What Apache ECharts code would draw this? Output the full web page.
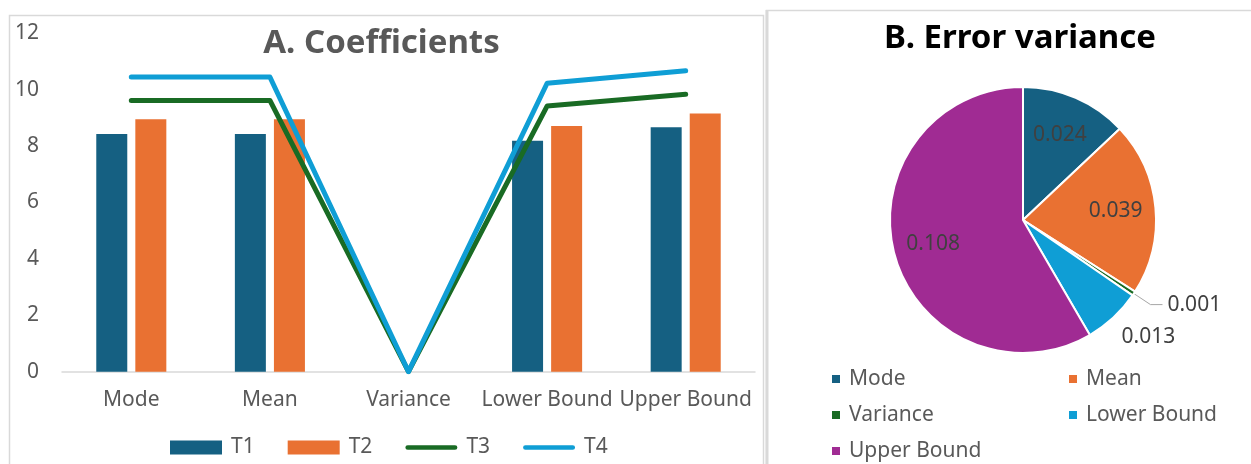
<!DOCTYPE html>
<html>
<head>
<meta charset="utf-8">
<script src="https://cdn.jsdelivr.net/npm/echarts@6/dist/echarts.min.js"></script>
<style>
  html, body { margin: 0; padding: 0; background: #fff; }
  #chart { width: 1251px; height: 464px; }
</style>
</head>
<body>
<div id="chart"></div>
<script>
// Coefficients per statistic for each test form
const categories = ['Mode', 'Mean', 'Variance', 'Lower Bound', 'Upper Bound'];
const seriesNames = ['T1', 'T2', 'T3', 'T4'];
const t1Values = [8.43, 8.43, 0, 8.19, 8.67];
const t2Values = [8.95, 8.95, 0, 8.71, 9.16];
const t3Values = [9.62, 9.62, 0, 9.42, 9.84];
const t4Values = [10.45, 10.45, 0, 10.23, 10.67];
const yAxisMin = 0;
const yAxisMax = 12;
const yAxisStep = 2;

// Error variance per statistic
const errorVariance = [0.024, 0.039, 0.001, 0.013, 0.108];
const errorLabels = ['0.024', '0.039', '0.001', '0.013', '0.108'];

const COLORS = ['#156082', '#E97132', '#196B24', '#0F9ED5', '#A02B93'];
const FONT = 'Noto Sans';
const TEXT = '#595959';

const PIE_CENTER = [1023, 220];
const PIE_R = 133;
// where each slice's label sits
const labelPlacement = ['inside', 'inside', 'leader', 'outside', 'inside'];

const pieTotal = errorVariance.reduce((a, b) => a + b, 0);
function midAngle(i) {
  let s = 0;
  for (let k = 0; k < i; k++) s += errorVariance[k];
  return (s + errorVariance[i] / 2) / pieTotal * Math.PI * 2;
}

// rounded stroke used as the legend key of the line series
const lineIcon = 'path://M2.5,0 L52.5,0 A2.5,2.5 0 0 1 52.5,5 L2.5,5 A2.5,2.5 0 0 1 2.5,0 Z';

const chart = echarts.init(document.getElementById('chart'), null, { renderer: 'canvas' });

const option = {
  backgroundColor: '#ffffff',
  animation: false,
  textStyle: { fontFamily: FONT },
  graphic: [
    { type: 'rect', shape: { x: 9.5, y: 15.5, width: 754, height: 470 },
      style: { fill: 'none', stroke: '#d9d9d9', lineWidth: 1.5 }, silent: true },
    { type: 'rect', shape: { x: 766.5, y: 10.5, width: 520, height: 470 },
      style: { fill: 'none', stroke: '#d9d9d9', lineWidth: 1.5 }, silent: true },
    { type: 'line', shape: { x1: 767, y1: 10, x2: 767, y2: 470 },
      style: { stroke: '#d9d9d9', lineWidth: 3 }, silent: true },
    { type: 'text', x: 381.5, y: 44, silent: true,
      style: { text: 'A. Coefficients', fontFamily: FONT, fontSize: 33, fontWeight: 'bold',
               fill: TEXT, align: 'center', verticalAlign: 'middle' } },
    { type: 'text', x: 1020, y: 39, silent: true,
      style: { text: 'B. Error variance', fontFamily: FONT, fontSize: 33, fontWeight: 'bold',
               fill: '#000000', align: 'center', verticalAlign: 'middle' } }
  ],
  legend: [
    {
      left: 170, top: 437, padding: 0,
      itemWidth: 52, itemHeight: 14, itemGap: 33,
      textStyle: { fontFamily: FONT, fontSize: 21, color: TEXT, padding: [0, 0, 0, 4] },
      data: [
        { name: 'T1', icon: 'rect' },
        { name: 'T2', icon: 'rect' },
        { name: 'T3', icon: lineIcon },
        { name: 'T4', icon: lineIcon }
      ]
    },
    {
      left: 830, top: 368, width: 480, padding: 0,
      orient: 'horizontal',
      itemWidth: 10, itemHeight: 10, itemGap: 14,
      icon: 'rect',
      textStyle: { fontFamily: FONT, fontSize: 21, color: TEXT, width: 204, lineHeight: 22, padding: [0, 0, 0, 3] },
      data: categories
    }
  ],
  grid: { left: 62, top: 33.3, width: 693, height: 338.4, containLabel: false },
  xAxis: {
    type: 'category',
    data: categories,
    axisLine: { lineStyle: { color: '#d9d9d9', width: 1.5 } },
    axisTick: { show: false },
    axisLabel: { color: TEXT, fontFamily: FONT, fontSize: 21, margin: 18, interval: 0 }
  },
  yAxis: {
    type: 'value',
    min: yAxisMin, max: yAxisMax, interval: yAxisStep,
    axisLine: { show: false },
    axisTick: { show: false },
    splitLine: { show: false },
    axisLabel: { color: TEXT, fontFamily: FONT, fontSize: 21, margin: 23 }
  },
  series: [
    { name: 'T1', type: 'bar', data: t1Values, barWidth: 31, barGap: '26%',
      itemStyle: { color: COLORS[0] } },
    { name: 'T2', type: 'bar', data: t2Values, barWidth: 31, barGap: '26%',
      itemStyle: { color: COLORS[1] } },
    { name: 'T3', type: 'line', data: t3Values, symbol: 'none', z: 3,
      itemStyle: { color: COLORS[2] },
      lineStyle: { width: 5, color: COLORS[2], cap: 'round', join: 'round' } },
    { name: 'T4', type: 'line', data: t4Values, symbol: 'none', z: 4,
      itemStyle: { color: COLORS[3] },
      lineStyle: { width: 5, color: COLORS[3], cap: 'round', join: 'round' } },
    {
      name: 'Error variance',
      type: 'pie',
      center: PIE_CENTER,
      radius: PIE_R,
      startAngle: 90,
      clockwise: true,
      avoidLabelOverlap: false,
      legendHoverLink: false,
      itemStyle: { borderColor: '#ffffff', borderWidth: 2 },
      label: {
        fontFamily: FONT, fontSize: 21, color: '#404040',
        formatter: (p) => errorLabels[p.dataIndex]
      },
      labelLine: { lineStyle: { color: '#a6a6a6', width: 1 }, length: 20, length2: 12 },
      data: categories.map((name, i) => ({
        name: name,
        value: errorVariance[i],
        itemStyle: { color: COLORS[i] },
        label: { position: labelPlacement[i] === 'inside' ? 'inside' : 'outside', distanceToLabelLine: 5 },
        labelLine: { show: labelPlacement[i] === 'leader' }
      })),
      labelLayout: function (p) {
        if (p.seriesIndex !== 4) return;
        const i = p.dataIndex;
        const a = midAngle(i);
        const ux = Math.sin(a);
        const uy = -Math.cos(a);
        if (labelPlacement[i] === 'inside') {
          return { x: PIE_CENTER[0] + 0.7 * PIE_R * ux, y: PIE_CENTER[1] + 0.7 * PIE_R * uy,
                   align: 'center', verticalAlign: 'middle' };
        }
        if (labelPlacement[i] === 'outside') {
          return { x: PIE_CENTER[0] + (PIE_R + 12) * ux, y: PIE_CENTER[1] + (PIE_R + 12) * uy,
                   align: ux > 0 ? 'left' : 'right', verticalAlign: uy > 0 ? 'top' : 'bottom' };
        }
      }
    }
  ]
};

chart.setOption(option);
</script>
</body>
</html>
